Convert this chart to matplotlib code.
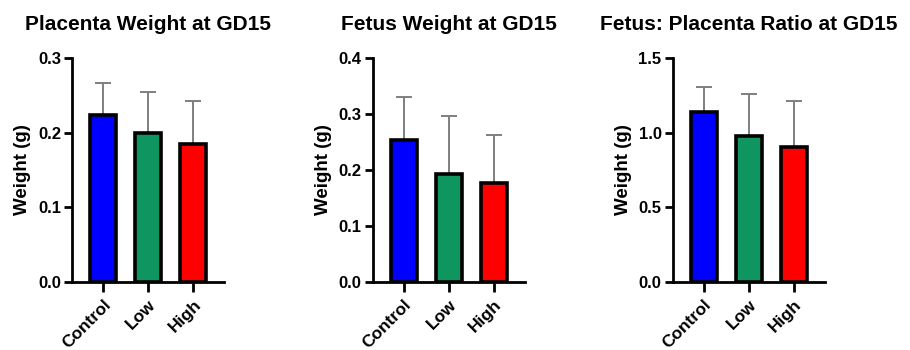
import matplotlib
matplotlib.use("Agg")
import matplotlib.pyplot as plt
import numpy as np

plt.rcParams['font.family'] = ['Liberation Sans', 'DejaVu Sans']
plt.rcParams['font.weight'] = 'bold'

groups = ['Control', 'Low', 'High']
bar_colors = ['#0000FF', '#0F9660', '#FF0000']

titles = ['Placenta Weight at GD15', 'Fetus Weight at GD15', 'Fetus: Placenta Ratio at GD15']

placenta_mean = [0.223, 0.200, 0.184]
placenta_err = [0.043, 0.054, 0.059]

fetus_mean = [0.254, 0.193, 0.176]
fetus_err = [0.076, 0.104, 0.086]

ratio_mean = [1.136, 0.979, 0.905]
ratio_err = [0.167, 0.280, 0.307]

ylims = [0.3, 0.4, 1.5]
yticks = [[0.0, 0.1, 0.2, 0.3], [0.0, 0.1, 0.2, 0.3, 0.4], [0.0, 0.5, 1.0, 1.5]]

fig = plt.figure(figsize=(9.1, 3.5), dpi=100)

lefts = [72, 372.7, 672.7]
W, H = 910.0, 350.0

for i, (mean, err) in enumerate([(placenta_mean, placenta_err),
                                 (fetus_mean, fetus_err),
                                 (ratio_mean, ratio_err)]):
    ax = fig.add_axes([lefts[i] / W, (H - 281.7) / H, 152 / W, (281.7 - 58) / H])
    x = np.arange(len(groups))
    ax.errorbar(x, mean, yerr=[np.zeros(len(err)), err], fmt='none',
                ecolor='#7f7f7f', elinewidth=1.4, capsize=5.8, capthick=1.4, zorder=1)
    ax.bar(x, mean, width=0.58, color=bar_colors, edgecolor='black',
           linewidth=2.6, zorder=2)

    ax.set_xlim(-0.69, 2.68)
    ax.set_ylim(0, ylims[i])
    ax.set_yticks(yticks[i])
    ax.set_yticklabels([f'{t:.1f}' for t in yticks[i]], fontsize=12, fontweight='bold')
    ax.set_xticks(x)
    ax.set_xticklabels(groups, rotation=45, ha='right', rotation_mode='anchor',
                       fontsize=12.5, fontweight='bold')

    for s in ['top', 'right']:
        ax.spines[s].set_visible(False)
    for s in ['left', 'bottom']:
        ax.spines[s].set_linewidth(2)
    ax.tick_params(axis='both', width=2, length=6, pad=2)
    ax.tick_params(axis='x', length=7, pad=4)

    ax.set_ylabel('Weight (g)', fontsize=13.5, fontweight='bold', labelpad=5)
    ax.set_title(titles[i], fontsize=15, fontweight='bold', pad=20)

fig.savefig('out.png', dpi=100)
